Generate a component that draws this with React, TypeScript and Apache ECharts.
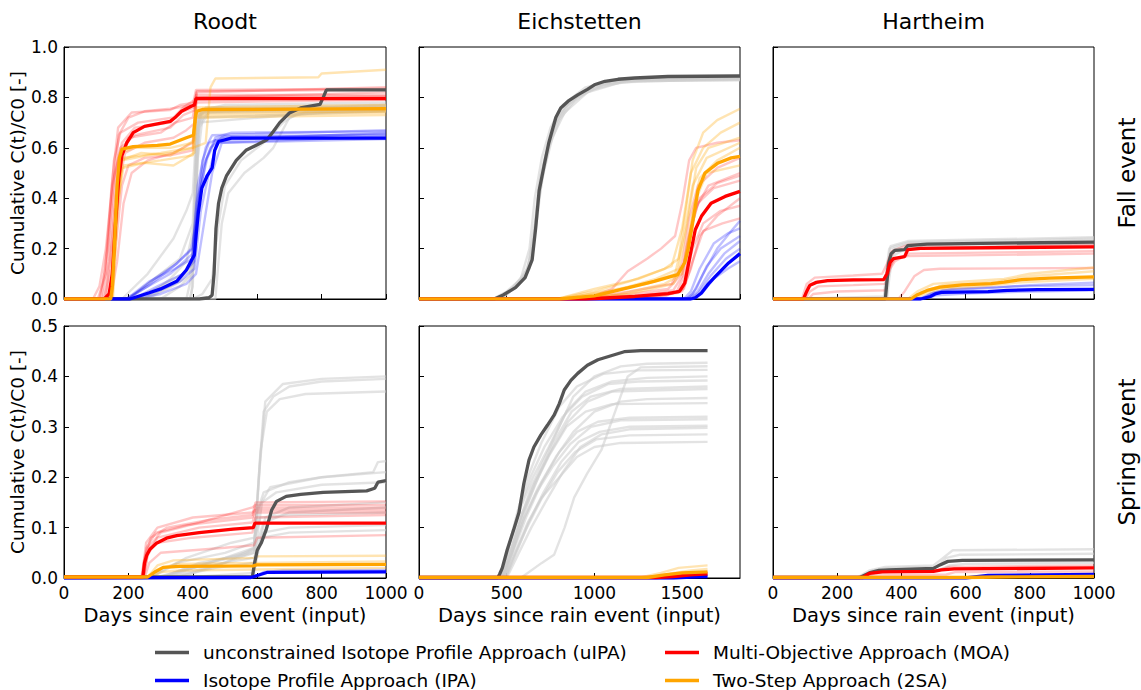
import React, { useEffect, useRef } from "react";
import * as echarts from "echarts";

type Pt = [number, number];

// ---------- labels ----------
const siteNames = ["Roodt", "Eichstetten", "Hartheim"];
const eventNames = ["Fall event", "Spring event"];
const methodNames = [
  "unconstrained Isotope Profile Approach (uIPA)",
  "Isotope Profile Approach (IPA)",
  "Multi-Objective Approach (MOA)",
  "Two-Step Approach (2SA)",
];
const xMaxBySite = [1000, 1830, 1000];
const xStepBySite = [200, 500, 200];
const yMaxByEvent = [1.0, 0.5];
const yStepByEvent = [0.2, 0.1];

// ---------- Roodt, fall ----------
const roodtFallUIPA: Pt[] = [[0,0],[420,0],[450,0.005],[460,0.015],[466,0.1],[472,0.28],[480,0.38],[490,0.44],[505,0.49],[535,0.55],[565,0.59],[600,0.612],[630,0.632],[650,0.665],[670,0.7],[700,0.738],[735,0.758],[795,0.772],[805,0.8],[815,0.83],[1000,0.83]];
const roodtFallIPA: Pt[] = [[0,0],[205,0],[265,0.025],[300,0.04],[350,0.07],[380,0.115],[405,0.175],[410,0.25],[417,0.34],[428,0.44],[445,0.49],[460,0.52],[468,0.59],[480,0.625],[520,0.638],[1000,0.638]];
const roodtFallMOA: Pt[] = [[0,0],[125,0],[140,0.02],[150,0.1],[160,0.3],[170,0.48],[180,0.57],[195,0.62],[215,0.66],[250,0.685],[290,0.695],[330,0.705],[345,0.72],[365,0.745],[395,0.765],[405,0.77],[410,0.795],[1000,0.795]];
const roodtFall2SA: Pt[] = [[0,0],[145,0],[150,0.05],[158,0.25],[165,0.45],[172,0.56],[180,0.595],[215,0.605],[290,0.61],[330,0.615],[350,0.625],[380,0.64],[402,0.65],[408,0.72],[412,0.745],[430,0.752],[1000,0.755]];
const roodtFallUIPAEns: Pt[][] = [
  [[0,0],[180,0],[260,0.1],[340,0.24],[380,0.35],[400,0.42],[410,0.65],[430,0.75],[500,0.77],[1000,0.78]],
  [[0,0],[390,0],[400,0.05],[408,0.5],[415,0.72],[440,0.76],[1000,0.77]],
  [[0,0],[395,0],[405,0.2],[412,0.6],[420,0.73],[460,0.755],[1000,0.76]],
  [[0,0],[250,0],[330,0.08],[380,0.15],[405,0.3],[420,0.68],[450,0.74],[1000,0.75]],
  [[0,0],[300,0],[360,0.05],[400,0.1],[415,0.55],[430,0.72],[1000,0.745]],
  [[0,0],[470,0],[490,0.3],[510,0.42],[560,0.5],[620,0.56],[650,0.6],[700,0.72],[760,0.745],[1000,0.75]],
  [[0,0],[200,0],[280,0.08],[360,0.16],[400,0.3],[405,0.45],[415,0.7],[1000,0.76]],
  [[0,0],[380,0],[398,0.1],[406,0.4],[413,0.68],[450,0.75],[1000,0.765]],
  [[0,0],[220,0],[300,0.05],[370,0.1],[402,0.14],[410,0.5],[418,0.74],[1000,0.77]],
  [[0,0],[240,0],[320,0.04],[390,0.09],[404,0.2],[414,0.62],[425,0.745],[1000,0.755]],
  [[0,0],[260,0],[340,0.06],[395,0.12],[408,0.35],[418,0.7],[440,0.755],[1000,0.76]],
  [[0,0],[400,0],[430,0.02],[460,0.08],[480,0.3],[500,0.45],[550,0.55],[620,0.62],[680,0.7],[730,0.74],[1000,0.745]],
];
const roodtFallIPAEns: Pt[][] = [
  [[0,0],[190,0],[260,0.05],[330,0.1],[400,0.18],[420,0.4],[440,0.55],[470,0.64],[520,0.66],[1000,0.665]],
  [[0,0],[210,0],[290,0.03],[360,0.07],[405,0.12],[425,0.35],[450,0.5],[475,0.62],[1000,0.645]],
  [[0,0],[200,0],[270,0.06],[340,0.13],[400,0.2],[415,0.45],[440,0.6],[460,0.65],[1000,0.67]],
  [[0,0],[220,0],[300,0.02],[380,0.06],[410,0.1],[435,0.3],[460,0.5],[490,0.62],[1000,0.635]],
  [[0,0],[200,0],[280,0.08],[350,0.14],[395,0.2],[410,0.3],[430,0.55],[450,0.62],[500,0.645],[1000,0.65]],
  [[0,0],[195,0],[265,0.07],[345,0.12],[398,0.16],[412,0.38],[432,0.52],[455,0.6],[490,0.64],[1000,0.655]],
  [[0,0],[215,0],[290,0.05],[370,0.1],[405,0.15],[420,0.42],[445,0.56],[470,0.63],[1000,0.66]],
];
const roodtFallMOAEns: Pt[][] = [
  [[0,0],[105,0],[130,0.1],[150,0.4],[170,0.65],[200,0.72],[250,0.745],[330,0.755],[400,0.77],[410,0.83],[1000,0.835]],
  [[0,0],[120,0],[140,0.15],[160,0.5],[180,0.62],[220,0.68],[330,0.7],[360,0.74],[405,0.76],[410,0.8],[1000,0.82]],
  [[0,0],[140,0],[160,0.2],[180,0.45],[200,0.53],[250,0.56],[330,0.57],[400,0.59],[410,0.78],[1000,0.79]],
  [[0,0],[115,0],[135,0.2],[155,0.55],[175,0.66],[230,0.7],[340,0.72],[370,0.76],[405,0.79],[410,0.81],[1000,0.81]],
  [[0,0],[130,0],[150,0.25],[170,0.55],[200,0.64],[300,0.66],[345,0.7],[400,0.72],[410,0.8],[1000,0.8]],
  [[0,0],[125,0],[145,0.12],[165,0.42],[190,0.58],[250,0.62],[340,0.64],[380,0.67],[408,0.7],[412,0.82],[1000,0.84]],
  [[0,0],[110,0],[128,0.12],[148,0.45],[168,0.68],[210,0.74],[330,0.75],[360,0.77],[408,0.78],[412,0.825],[1000,0.83]],
  [[0,0],[90,0],[110,0.05],[130,0.2],[150,0.45],[175,0.6],[220,0.65],[330,0.68],[370,0.73],[408,0.75],[412,0.8],[1000,0.805]],
  [[0,0],[145,0],[165,0.15],[185,0.38],[210,0.5],[260,0.55],[340,0.58],[400,0.62],[410,0.79],[1000,0.8]],
];
const roodtFall2SAEns: Pt[][] = [
  [[0,0],[150,0],[165,0.35],[180,0.52],[250,0.54],[340,0.53],[380,0.56],[405,0.58],[410,0.72],[1000,0.73]],
  [[0,0],[145,0],[160,0.4],[175,0.58],[220,0.6],[330,0.6],[400,0.62],[408,0.75],[1000,0.76]],
  [[0,0],[148,0],[162,0.3],[180,0.55],[260,0.57],[340,0.58],[400,0.6],[408,0.74],[1000,0.745]],
  [[0,0],[152,0],[168,0.38],[185,0.53],[300,0.55],[400,0.57],[410,0.73],[1000,0.74]],
  [[0,0],[148,0],[165,0.4],[180,0.56],[300,0.58],[400,0.6],[440,0.62],[455,0.84],[470,0.875],[790,0.88],[800,0.895],[1000,0.91]],
  [[0,0],[146,0],[160,0.35],[176,0.55],[240,0.58],[330,0.57],[370,0.6],[404,0.63],[409,0.76],[1000,0.77]],
];

// ---------- Eichstetten, fall ----------
const eichFallUIPA: Pt[] = [[0,0],[430,0],[480,0.016],[550,0.045],[605,0.085],[645,0.155],[665,0.28],[685,0.43],[712,0.525],[740,0.62],[780,0.72],[808,0.758],[850,0.785],[905,0.81],[960,0.832],[1000,0.85],[1060,0.864],[1135,0.872],[1230,0.877],[1420,0.883],[1830,0.885]];
const eichFallIPA: Pt[] = [[0,0],[1550,0],[1575,0.005],[1610,0.024],[1650,0.06],[1690,0.09],[1765,0.143],[1830,0.18]];
const eichFallMOA: Pt[] = [[0,0],[950,0],[1230,0.01],[1420,0.021],[1485,0.03],[1515,0.063],[1545,0.17],[1575,0.275],[1610,0.328],[1665,0.38],[1745,0.407],[1830,0.427]];
const eichFall2SA: Pt[] = [[0,0],[800,0],[1000,0.012],[1190,0.044],[1340,0.07],[1475,0.097],[1515,0.145],[1535,0.2],[1555,0.28],[1590,0.43],[1630,0.5],[1705,0.54],[1780,0.56],[1830,0.566]];
const eichFallUIPAEns: Pt[][] = [
  [[0,0],[450,0],[520,0.03],[600,0.09],[650,0.2],[680,0.42],[720,0.56],[770,0.68],[830,0.76],[950,0.83],[1100,0.86],[1300,0.87],[1830,0.872]],
  [[0,0],[460,0],[560,0.05],[630,0.12],[670,0.3],[700,0.47],[740,0.6],[800,0.71],[900,0.8],[1050,0.85],[1250,0.865],[1830,0.868]],
  [[0,0],[420,0],[500,0.03],[580,0.08],[630,0.2],[660,0.4],[700,0.56],[750,0.68],[820,0.77],[950,0.84],[1150,0.875],[1830,0.88]],
  [[0,0],[470,0],[570,0.06],[640,0.15],[675,0.36],[710,0.5],[760,0.64],[830,0.74],[960,0.82],[1150,0.86],[1830,0.875]],
  [[0,0],[440,0],[530,0.04],[620,0.12],[660,0.3],[690,0.48],[730,0.6],[790,0.72],[870,0.79],[1000,0.845],[1200,0.872],[1830,0.878]],
  [[0,0],[455,0],[540,0.05],[615,0.1],[655,0.25],[685,0.45],[725,0.58],[780,0.7],[850,0.77],[980,0.83],[1180,0.865],[1830,0.87]],
];
const eichFallIPAEns: Pt[][] = [
  [[0,0],[1520,0],[1560,0.02],[1620,0.1],[1700,0.2],[1780,0.27],[1830,0.31]],
  [[0,0],[1540,0],[1590,0.03],[1650,0.1],[1740,0.18],[1830,0.23]],
  [[0,0],[1560,0],[1610,0.02],[1680,0.08],[1760,0.12],[1830,0.15]],
  [[0,0],[1510,0],[1550,0.03],[1600,0.12],[1680,0.22],[1760,0.26],[1830,0.28]],
  [[0,0],[1530,0],[1580,0.04],[1640,0.13],[1720,0.2],[1830,0.25]],
  [[0,0],[1545,0],[1595,0.025],[1660,0.09],[1750,0.16],[1830,0.2]],
];
const eichFallMOAEns: Pt[][] = [
  [[0,0],[950,0],[1100,0.04],[1190,0.11],[1300,0.16],[1380,0.2],[1460,0.25],[1500,0.38],[1540,0.55],[1580,0.6],[1700,0.62],[1830,0.63]],
  [[0,0],[900,0],[1200,0.02],[1420,0.04],[1500,0.1],[1540,0.25],[1590,0.38],[1680,0.44],[1830,0.47]],
  [[0,0],[1000,0],[1300,0.01],[1480,0.025],[1520,0.08],[1560,0.2],[1620,0.3],[1720,0.35],[1830,0.37]],
  [[0,0],[950,0],[1250,0.015],[1450,0.035],[1500,0.09],[1530,0.22],[1570,0.35],[1650,0.45],[1830,0.5]],
  [[0,0],[1000,0],[1350,0.01],[1500,0.03],[1550,0.12],[1600,0.25],[1700,0.33],[1830,0.4]],
  [[0,0],[1050,0],[1400,0.01],[1510,0.04],[1560,0.15],[1620,0.27],[1730,0.3],[1830,0.32]],
  [[0,0],[920,0],[1200,0.03],[1440,0.06],[1500,0.14],[1540,0.32],[1590,0.45],[1700,0.52],[1830,0.56]],
  [[0,0],[980,0],[1300,0.015],[1470,0.03],[1515,0.1],[1550,0.28],[1600,0.4],[1700,0.46],[1830,0.49]],
];
const eichFall2SAEns: Pt[][] = [
  [[0,0],[780,0],[1000,0.03],[1200,0.07],[1400,0.12],[1480,0.16],[1520,0.35],[1560,0.55],[1620,0.66],[1700,0.71],[1830,0.755]],
  [[0,0],[800,0],[1100,0.03],[1350,0.08],[1480,0.12],[1530,0.3],[1580,0.52],[1650,0.6],[1830,0.64]],
  [[0,0],[850,0],[1150,0.02],[1400,0.06],[1500,0.1],[1550,0.3],[1600,0.48],[1700,0.55],[1830,0.6]],
  [[0,0],[900,0],[1200,0.02],[1450,0.06],[1520,0.15],[1570,0.38],[1640,0.5],[1830,0.53]],
  [[0,0],[820,0],[1050,0.03],[1300,0.06],[1460,0.1],[1510,0.25],[1560,0.45],[1640,0.56],[1830,0.62]],
  [[0,0],[790,0],[1000,0.04],[1250,0.08],[1440,0.13],[1500,0.28],[1550,0.5],[1620,0.6],[1720,0.66],[1830,0.7]],
];

// ---------- Hartheim, fall ----------
const hartFallUIPA: Pt[] = [[0,0],[350,0],[355,0.07],[360,0.14],[368,0.18],[380,0.193],[410,0.196],[420,0.212],[480,0.218],[1000,0.226]];
const hartFallIPA: Pt[] = [[0,0],[460,0],[490,0.01],[505,0.02],[525,0.026],[670,0.029],[730,0.034],[825,0.037],[1000,0.038]];
const hartFallMOA: Pt[] = [[0,0],[95,0],[105,0.03],[115,0.055],[135,0.066],[170,0.073],[250,0.076],[345,0.077],[355,0.1],[365,0.145],[375,0.16],[410,0.168],[420,0.196],[460,0.201],[1000,0.207]];
const hartFall2SA: Pt[] = [[0,0],[430,0],[450,0.017],[480,0.034],[520,0.047],[590,0.056],[680,0.061],[720,0.067],[775,0.077],[860,0.083],[1000,0.088]];
const hartFallUIPAEns: Pt[][] = [
  [[0,0],[345,0],[352,0.1],[362,0.2],[380,0.21],[420,0.225],[1000,0.24]],
  [[0,0],[355,0],[362,0.08],[372,0.17],[420,0.205],[1000,0.215]],
  [[0,0],[100,0],[200,0.005],[350,0.01],[360,0.15],[375,0.2],[420,0.22],[1000,0.232]],
  [[0,0],[348,0],[356,0.12],[366,0.21],[420,0.23],[1000,0.245]],
];
const hartFallIPAEns: Pt[][] = [
  [[0,0],[455,0],[490,0.02],[530,0.035],[700,0.045],[800,0.055],[1000,0.065]],
  [[0,0],[470,0],[510,0.015],[600,0.022],[800,0.03],[1000,0.035]],
  [[0,0],[460,0],[500,0.025],[560,0.04],[750,0.05],[1000,0.055]],
];
const hartFallMOAEns: Pt[][] = [
  [[0,0],[90,0],[105,0.06],[130,0.085],[250,0.093],[340,0.1],[355,0.14],[370,0.19],[420,0.215],[1000,0.225]],
  [[0,0],[100,0],[115,0.03],[140,0.05],[250,0.055],[350,0.06],[365,0.12],[380,0.15],[425,0.18],[1000,0.19]],
  [[0,0],[390,0],[410,0.03],[440,0.09],[470,0.115],[520,0.12],[1000,0.123]],
  [[0,0],[110,0],[125,0.02],[200,0.03],[350,0.035],[365,0.13],[380,0.16],[420,0.17],[1000,0.18]],
  [[0,0],[95,0],[110,0.05],[140,0.07],[300,0.075],[350,0.08],[362,0.16],[380,0.19],[420,0.2],[1000,0.215]],
];
const hartFall2SAEns: Pt[][] = [
  [[0,0],[420,0],[450,0.03],[500,0.06],[600,0.07],[720,0.08],[800,0.1],[1000,0.125]],
  [[0,0],[440,0],[470,0.02],[520,0.04],[650,0.05],[760,0.065],[1000,0.08]],
  [[0,0],[425,0],[460,0.025],[530,0.055],[700,0.07],[800,0.09],[1000,0.11]],
];

// ---------- Roodt, spring ----------
const roodtSpringUIPA: Pt[] = [[0,0.002],[585,0.002],[592,0.03],[600,0.055],[613,0.07],[628,0.096],[645,0.135],[660,0.152],[690,0.162],[735,0.166],[805,0.17],[940,0.173],[965,0.178],[975,0.19],[1000,0.193]];
const roodtSpringIPA: Pt[] = [[0,0],[580,0.001],[600,0.005],[630,0.011],[1000,0.012]];
const roodtSpringMOA: Pt[] = [[0,0.002],[245,0.002],[250,0.03],[257,0.045],[267,0.057],[287,0.069],[318,0.079],[350,0.084],[420,0.09],[525,0.097],[588,0.1],[593,0.109],[1000,0.109]];
const roodtSpring2SA: Pt[] = [[0,0.002],[260,0.002],[285,0.013],[308,0.021],[360,0.023],[588,0.024],[598,0.026],[1000,0.027]];
const roodtSpringUIPAEns: Pt[][] = [
  [[0,0],[300,0],[400,0.02],[500,0.04],[590,0.06],[605,0.2],[620,0.33],[650,0.36],[700,0.38],[800,0.39],[1000,0.395]],
  [[0,0],[350,0],[450,0.02],[590,0.05],[610,0.25],[630,0.33],[670,0.355],[750,0.365],[1000,0.37]],
  [[0,0],[260,0],[350,0.03],[500,0.05],[590,0.07],[600,0.13],[620,0.17],[700,0.19],[800,0.2],[960,0.21],[975,0.23],[1000,0.232]],
  [[0,0],[300,0],[420,0.03],[590,0.05],[620,0.11],[700,0.13],[1000,0.14]],
  [[0,0],[280,0],[400,0.02],[590,0.04],[615,0.08],[700,0.09],[1000,0.095]],
  [[0,0],[320,0],[500,0.03],[590,0.06],[605,0.14],[640,0.18],[800,0.2],[1000,0.21]],
  [[0,0],[350,0],[590,0.01],[625,0.12],[700,0.14],[1000,0.15]],
  [[0,0],[310,0],[450,0.03],[590,0.055],[608,0.22],[625,0.35],[680,0.385],[800,0.395],[1000,0.4]],
  [[0,0],[270,0],[380,0.04],[520,0.07],[592,0.08],[610,0.12],[700,0.125],[1000,0.13]],
  [[0,0],[290,0],[410,0.025],[560,0.045],[595,0.06],[615,0.15],[660,0.17],[800,0.185],[1000,0.19]],
  [[0,0],[330,0],[470,0.02],[590,0.03],[618,0.09],[700,0.1],[1000,0.105]],
];
const roodtSpringIPAEns: Pt[][] = [
  [[0,0],[590,0],[620,0.012],[680,0.015],[1000,0.016]],
];
const roodtSpringMOAEns: Pt[][] = [
  [[0,0],[240,0],[250,0.04],[270,0.08],[320,0.1],[450,0.115],[585,0.125],[595,0.15],[1000,0.152]],
  [[0,0],[245,0],[258,0.05],[290,0.07],[400,0.08],[585,0.09],[595,0.12],[1000,0.125]],
  [[0,0],[248,0],[262,0.06],[300,0.09],[420,0.11],[585,0.14],[595,0.145],[1000,0.145]],
  [[0,0],[250,0],[265,0.03],[300,0.05],[500,0.06],[590,0.065],[600,0.08],[1000,0.085]],
  [[0,0],[242,0],[255,0.07],[290,0.1],[400,0.12],[585,0.13],[595,0.135],[1000,0.135]],
  [[0,0],[246,0],[260,0.045],[290,0.08],[420,0.1],[585,0.11],[595,0.13],[1000,0.13]],
  [[0,0],[244,0],[256,0.06],[285,0.09],[380,0.105],[585,0.12],[595,0.14],[1000,0.14]],
];
const roodtSpring2SAEns: Pt[][] = [
  [[0,0],[258,0],[290,0.025],[340,0.035],[590,0.04],[600,0.043],[1000,0.044]],
  [[0,0],[265,0],[300,0.012],[360,0.015],[600,0.017],[1000,0.02]],
  [[0,0],[260,0],[295,0.018],[350,0.028],[600,0.03],[1000,0.033]],
];

// ---------- Eichstetten, spring ----------
const eichSpringUIPA: Pt[] = [[0,0.001],[450,0.001],[460,0.008],[475,0.02],[503,0.056],[540,0.096],[570,0.13],[598,0.188],[627,0.234],[655,0.26],[695,0.284],[732,0.303],[770,0.323],[800,0.346],[828,0.373],[866,0.392],[905,0.406],[960,0.422],[1020,0.433],[1095,0.441],[1170,0.449],[1265,0.451],[1645,0.451]];
const eichSpringIPA: Pt[] = [[0,0],[1450,0],[1550,0.002],[1645,0.003]];
const eichSpringMOA: Pt[] = [[0,0.001],[1350,0.001],[1450,0.003],[1550,0.006],[1645,0.008]];
const eichSpring2SA: Pt[] = [[0,0.001],[1300,0.001],[1400,0.006],[1500,0.01],[1645,0.012]];
const eichSpringUIPAEns: Pt[][] = [
  [[0,0],[580,0],[700,0.03],[770,0.046],[830,0.1],[885,0.16],[960,0.208],[1040,0.254],[1115,0.327],[1190,0.4],[1265,0.418],[1645,0.42]],
  [[0,0],[470,0],[520,0.05],[580,0.12],[640,0.18],[720,0.24],[800,0.3],[880,0.36],[1000,0.4],[1150,0.42],[1300,0.425],[1645,0.427]],
  [[0,0],[480,0],[540,0.06],[600,0.12],[680,0.18],[780,0.24],[880,0.29],[1000,0.33],[1150,0.35],[1300,0.355],[1645,0.357]],
  [[0,0],[490,0],[560,0.06],[620,0.11],[700,0.16],[800,0.2],[900,0.24],[1000,0.26],[1150,0.268],[1645,0.27]],
  [[0,0],[465,0],[520,0.07],[580,0.14],[650,0.2],[740,0.26],[840,0.33],[950,0.37],[1100,0.39],[1300,0.397],[1645,0.4]],
  [[0,0],[500,0],[570,0.05],[640,0.1],[720,0.15],[820,0.21],[920,0.26],[1040,0.285],[1200,0.295],[1645,0.298]],
  [[0,0],[475,0],[530,0.05],[600,0.13],[680,0.2],[770,0.27],[870,0.33],[980,0.36],[1150,0.375],[1645,0.38]],
  [[0,0],[485,0],[545,0.06],[610,0.12],[700,0.19],[800,0.25],[900,0.29],[1020,0.31],[1200,0.318],[1645,0.32]],
  [[0,0],[460,0],[510,0.06],[560,0.13],[620,0.2],[700,0.27],[800,0.34],[900,0.38],[1050,0.405],[1250,0.412],[1645,0.413]],
  [[0,0],[495,0],[555,0.05],[625,0.11],[710,0.17],[810,0.23],[910,0.27],[1030,0.29],[1200,0.3],[1645,0.302]],
  [[0,0],[470,0],[525,0.06],[590,0.13],[660,0.19],[750,0.25],[850,0.31],[960,0.35],[1100,0.37],[1645,0.375]],
  [[0,0],[480,0],[535,0.055],[595,0.115],[670,0.17],[760,0.22],[860,0.265],[980,0.3],[1150,0.313],[1645,0.315]],
  [[0,0],[465,0],[515,0.065],[570,0.135],[635,0.2],[715,0.26],[820,0.32],[930,0.36],[1080,0.385],[1250,0.39],[1645,0.392]],
  [[0,0],[490,0],[550,0.05],[615,0.1],[695,0.155],[790,0.21],[890,0.25],[1010,0.275],[1200,0.283],[1645,0.285]],
  [[0,0],[475,0],[530,0.06],[590,0.125],[660,0.185],[745,0.245],[840,0.3],[950,0.33],[1100,0.345],[1645,0.347]],
];
const eichSpringIPAEns: Pt[][] = [
  [[0,0],[1400,0],[1520,0.004],[1645,0.006]],
];
const eichSpringMOAEns: Pt[][] = [
  [[0,0],[1350,0],[1480,0.008],[1645,0.012]],
];
const eichSpring2SAEns: Pt[][] = [
  [[0,0],[1250,0],[1380,0.01],[1480,0.02],[1645,0.025]],
  [[0,0],[1300,0],[1420,0.008],[1550,0.015],[1645,0.018]],
];

// ---------- Hartheim, spring ----------
const hartSpringUIPA: Pt[] = [[0,0.001],[270,0.001],[300,0.01],[330,0.015],[360,0.016],[500,0.019],[520,0.026],[545,0.033],[590,0.035],[1000,0.036]];
const hartSpringIPA: Pt[] = [[0,0],[600,0],[670,0.005],[1000,0.007]];
const hartSpringMOA: Pt[] = [[0,0.001],[280,0.001],[300,0.009],[340,0.012],[500,0.013],[525,0.016],[565,0.018],[1000,0.02]];
const hartSpring2SA: Pt[] = [[0,0.001],[600,0.001],[700,0.002],[1000,0.003]];
const hartSpringUIPAEns: Pt[][] = [
  [[0,0],[260,0],[300,0.015],[350,0.022],[500,0.025],[530,0.04],[560,0.055],[1000,0.057]],
  [[0,0],[280,0],[320,0.01],[370,0.013],[520,0.016],[550,0.025],[600,0.028],[1000,0.03]],
  [[0,0],[270,0],[310,0.015],[360,0.02],[510,0.022],[540,0.04],[580,0.046],[1000,0.048]],
];
const hartSpringIPAEns: Pt[][] = [];
const hartSpringMOAEns: Pt[][] = [
  [[0,0],[280,0],[310,0.005],[540,0.007],[570,0.012],[1000,0.013]],
  [[0,0],[285,0],[310,0.012],[510,0.015],[550,0.022],[1000,0.025]],
];
const hartSpring2SAEns: Pt[][] = [];

// ---------- panel table (row-major) ----------
const panels = [
  { main: [roodtFallUIPA, roodtFallIPA, roodtFallMOA, roodtFall2SA], ens: [roodtFallUIPAEns, roodtFallIPAEns, roodtFallMOAEns, roodtFall2SAEns] },
  { main: [eichFallUIPA, eichFallIPA, eichFallMOA, eichFall2SA], ens: [eichFallUIPAEns, eichFallIPAEns, eichFallMOAEns, eichFall2SAEns] },
  { main: [hartFallUIPA, hartFallIPA, hartFallMOA, hartFall2SA], ens: [hartFallUIPAEns, hartFallIPAEns, hartFallMOAEns, hartFall2SAEns] },
  { main: [roodtSpringUIPA, roodtSpringIPA, roodtSpringMOA, roodtSpring2SA], ens: [roodtSpringUIPAEns, roodtSpringIPAEns, roodtSpringMOAEns, roodtSpring2SAEns] },
  { main: [eichSpringUIPA, eichSpringIPA, eichSpringMOA, eichSpring2SA], ens: [eichSpringUIPAEns, eichSpringIPAEns, eichSpringMOAEns, eichSpring2SAEns] },
  { main: [hartSpringUIPA, hartSpringIPA, hartSpringMOA, hartSpring2SA], ens: [hartSpringUIPAEns, hartSpringIPAEns, hartSpringMOAEns, hartSpring2SAEns] },
];

const mainColors = ["#555555", "#0000ff", "#ff0000", "#ffa500"];
const ensColors = ["#cccccc", "#0000ff", "#ff0000", "#ffa500"];
const ensOpacity = [0.55, 0.25, 0.22, 0.3];

const FONT = "DejaVu Sans";
const colLeft = [64, 419, 773];
const colWidth = [322, 321, 321];
const rowTop = [47, 326];
const rowHeight = [252, 252];
const legendLeft = [155, 155, 665, 665];
const legendTop = [643, 671, 643, 671];

function buildOption() {
  const grid: any[] = [];
  const xAxis: any[] = [];
  const yAxis: any[] = [];
  const series: any[] = [];
  for (let r = 0; r < 2; r++) {
    for (let c = 0; c < 3; c++) {
      const gi = r * 3 + c;
      grid.push({
        left: colLeft[c], top: rowTop[r], width: colWidth[c], height: rowHeight[r],
        show: true, borderColor: "#000", borderWidth: 1, backgroundColor: "#fff",
      });
      xAxis.push({
        gridIndex: gi, type: "value", min: 0, max: xMaxBySite[c], interval: xStepBySite[c],
        splitLine: { show: false },
        axisLine: { show: true, onZero: false, lineStyle: { color: "#000", width: 1 } },
        axisTick: { show: true, inside: true, length: 5, lineStyle: { color: "#000" } },
        axisLabel: {
          show: r === 1, color: "#000", fontFamily: FONT, fontSize: 17, margin: 6,
          showMaxLabel: c !== 1,
          formatter: (v: number) => String(Math.round(v)),
        },
        name: r === 1 ? "Days since rain event (input)" : "",
        nameLocation: "middle", nameGap: 27,
        nameTextStyle: { color: "#000", fontFamily: FONT, fontSize: 19.5 },
      });
      yAxis.push({
        gridIndex: gi, type: "value", min: 0, max: yMaxByEvent[r], interval: yStepByEvent[r],
        splitLine: { show: false },
        axisLine: { show: true, onZero: false, lineStyle: { color: "#000", width: 1 } },
        axisTick: { show: true, inside: true, length: 5, lineStyle: { color: "#000" } },
        axisLabel: {
          show: c === 0, color: "#000", fontFamily: FONT, fontSize: 17, margin: 6,
          formatter: (v: number) => v.toFixed(1),
        },
        name: c === 0 ? "Cumulative C(t)/C0 [-]" : "",
        nameLocation: "middle", nameGap: 37,
        nameTextStyle: { color: "#000", fontFamily: FONT, fontSize: 18.5 },
      });
      const p = panels[gi];
      [0, 1, 2, 3].forEach((m) => {
        p.ens[m].forEach((d, k) => {
          series.push({
            type: "line", name: "ensemble " + m + "-" + k, data: d,
            xAxisIndex: gi, yAxisIndex: gi, symbol: "none", silent: true,
            lineStyle: { color: ensColors[m], width: 2.4, opacity: ensOpacity[m] },
            itemStyle: { color: ensColors[m] }, z: 2,
          });
        });
      });
      [0, 1, 2, 3].forEach((m) => {
        series.push({
          type: "line", name: methodNames[m], data: p.main[m],
          xAxisIndex: gi, yAxisIndex: gi, symbol: "none", silent: true,
          lineStyle: { color: mainColors[m], width: 3.3 },
          itemStyle: { color: mainColors[m] }, z: 3,
        });
      });
    }
  }

  const legend = methodNames.map((n, i) => ({
    show: true, left: legendLeft[i], top: legendTop[i], orient: "horizontal",
    icon: "rect", itemWidth: 34, itemHeight: 3.5, selectedMode: false, padding: 0,
    textStyle: { color: "#000", fontFamily: FONT, fontSize: 18.5, padding: [0, 0, 0, 9] },
    data: [n],
  }));

  const graphic: any[] = [];
  siteNames.forEach((s, c) => {
    graphic.push({
      type: "text", x: colLeft[c] + colWidth[c] / 2, y: 21,
      style: { text: s, fontFamily: FONT, fontSize: 22, fill: "#000", align: "center", verticalAlign: "middle" },
    });
  });
  eventNames.forEach((e, r) => {
    graphic.push({
      type: "text", x: 1127, y: rowTop[r] + rowHeight[r] / 2, rotation: Math.PI / 2,
      style: { text: e, fontFamily: FONT, fontSize: 23, fill: "#000", align: "center", verticalAlign: "middle" },
    });
  });

  return {
    animation: false,
    backgroundColor: "#fff",
    textStyle: { fontFamily: FONT },
    grid, xAxis, yAxis, series, graphic, legend,
  };
}

export default function App() {
  const ref = useRef<HTMLDivElement>(null);
  useEffect(() => {
    document.body.style.margin = "0";
    if (!ref.current) return;
    const chart = echarts.init(ref.current, undefined, { renderer: "svg" });
    chart.setOption(buildOption() as any);
    return () => chart.dispose();
  }, []);
  return <div ref={ref} style={{ width: 1141, height: 690, background: "#fff" }} />;
}
